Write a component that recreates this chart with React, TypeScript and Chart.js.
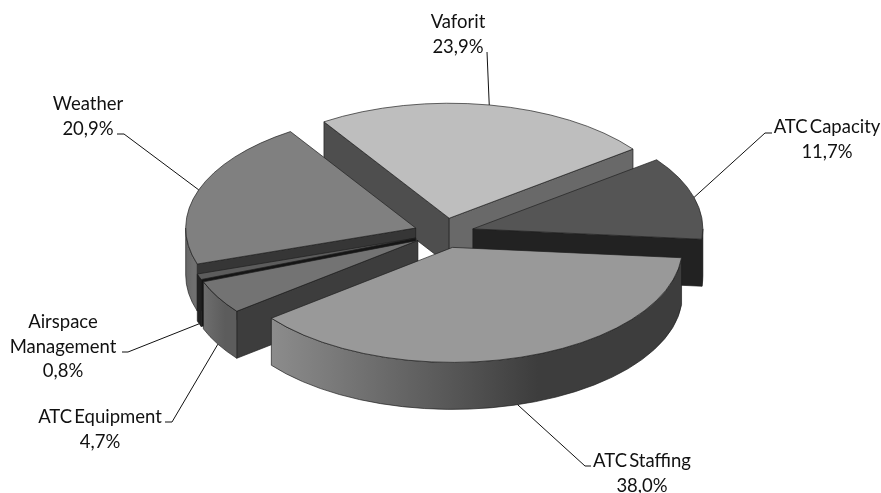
import React, { useEffect, useRef } from "react";
import { Chart, registerables } from "chart.js";

Chart.register(...registerables);

// ---- data ----
const categories = ["Vaforit", "ATC Capacity", "ATC Staffing", "ATC Equipment", "Airspace Management", "Weather"];
const labelLines = [["Vaforit"], ["ATC Capacity"], ["ATC Staffing"], ["ATC Equipment"], ["Airspace", "Management"], ["Weather"]];
const shares = [23.9, 11.7, 38.0, 4.7, 0.8, 20.9];

// ---- styles ----
const topColors = ["#bebebe", "#555555", "#999999", "#737373", "#5c5c5c", "#808080"];
const startWallColors = ["#4e4e4e", "#222222", "#444444", "#3d3d3d", "#151515", "#363636"];
const endWallColors = ["#696969", "#222222", "#444444", "#3d3d3d", "#151515", "#363636"];
const rimLight = ["#777777", "#222222", "#8c8c8c", "#6e6e6e", "#222222", "#666666"];
const rimDark = ["#777777", "#222222", "#3d3d3d", "#5c5c5c", "#222222", "#707070"];
const drawOrder = [0, 1, 5, 4, 3, 2];

// ---- pie geometry ----
const ROTATION = -33;
const RADIUS = 230;
const TILT = 0.5;
const DEPTH = 47;
const EXPLODE = 30;

// ---- label layout: centre x, first baseline, elbow, tail ----
const labelBoxes = [
  { cx: 458, y: 28, elbow: [487, 52], tail: null },
  { cx: 827, y: 133, elbow: [765, 133], tail: [772, 133] },
  { cx: 642, y: 467, elbow: [585, 466], tail: [591, 466] },
  { cx: 100, y: 423, elbow: [172, 422], tail: [165, 422] },
  { cx: 63, y: 328, elbow: [128, 352], tail: [122, 352] },
  { cx: 88, y: 110, elbow: [124, 134], tail: [117, 134] },
];
const LINE_HEIGHT = 24.5;
const FONT = '18.5px Lato, "Open Sans", sans-serif';
const OUTLINE = "rgba(30,30,30,0.85)";

const pie3d = {
  id: "pie3d",
  beforeDatasetsDraw(chart: any) {
    const ctx: CanvasRenderingContext2D = chart.ctx;
    const arcs = chart.getDatasetMeta(0).data;

    const geo = (arc: any) => {
      const a0 = arc.startAngle;
      const a1 = arc.endAngle;
      const mid = (a0 + a1) / 2;
      const ox = arc.x + EXPLODE * Math.cos(mid);
      const oy = arc.y + EXPLODE * Math.sin(mid) * TILT;
      return { a0, a1, mid, ox, oy, r: arc.outerRadius };
    };

    const wall = (ox: number, oy: number, r: number, a: number, color: string) => {
      const ex = ox + r * Math.cos(a);
      const ey = oy + r * Math.sin(a) * TILT;
      ctx.beginPath();
      ctx.moveTo(ox, oy);
      ctx.lineTo(ex, ey);
      ctx.lineTo(ex, ey + DEPTH);
      ctx.lineTo(ox, oy + DEPTH);
      ctx.closePath();
      ctx.fillStyle = color;
      ctx.fill();
      ctx.strokeStyle = OUTLINE;
      ctx.lineWidth = 0.8;
      ctx.stroke();
    };

    for (const i of drawOrder) {
      const arc = arcs[i];
      const { a0, a1, ox, oy, r } = geo(arc);

      if (Math.cos(a0) < 0) wall(ox, oy, r, a0, startWallColors[i]);
      if (Math.cos(a1) > 0) wall(ox, oy, r, a1, endWallColors[i]);

      const rs = Math.max(a0, 0);
      const re = Math.min(a1, Math.PI);
      if (re > rs) {
        const xa = ox + r * Math.cos(re);
        const xb = ox + r * Math.cos(rs);
        const g = ctx.createLinearGradient(xa, 0, xb, 0);
        g.addColorStop(0, rimLight[i]);
        g.addColorStop(0.65, rimDark[i]);
        g.addColorStop(1, rimDark[i]);
        ctx.beginPath();
        ctx.ellipse(ox, oy, r, r * TILT, 0, rs, re, false);
        ctx.ellipse(ox, oy + DEPTH, r, r * TILT, 0, re, rs, true);
        ctx.closePath();
        ctx.fillStyle = g;
        ctx.fill();
        ctx.strokeStyle = OUTLINE;
        ctx.lineWidth = 0.8;
        ctx.stroke();
      }

      // top face: the library's own arc, squashed and moved out
      ctx.save();
      ctx.translate(ox, oy);
      ctx.scale(1, TILT);
      ctx.translate(-arc.x, -arc.y);
      arc.draw(ctx);
      ctx.restore();

      ctx.beginPath();
      ctx.moveTo(ox, oy);
      ctx.ellipse(ox, oy, r, r * TILT, 0, a0, a1, false);
      ctx.closePath();
      ctx.strokeStyle = OUTLINE;
      ctx.lineWidth = 0.8;
      ctx.stroke();
    }

    // leader lines and labels
    ctx.font = FONT;
    ctx.textAlign = "center";
    ctx.textBaseline = "alphabetic";
    (ctx as any).wordSpacing = "-2.5px";
    arcs.forEach((arc: any, i: number) => {
      const { mid, ox, oy, r } = geo(arc);
      const box = labelBoxes[i];
      const ax = ox + r * Math.cos(mid);
      const ay = oy + r * Math.sin(mid) * TILT + (Math.sin(mid) > 0 ? DEPTH : 0);
      ctx.beginPath();
      ctx.moveTo(ax, ay);
      ctx.lineTo(box.elbow[0], box.elbow[1]);
      if (box.tail) ctx.lineTo(box.tail[0], box.tail[1]);
      ctx.strokeStyle = "#111111";
      ctx.lineWidth = 1;
      ctx.stroke();

      ctx.fillStyle = "#111111";
      const lines = [...labelLines[i], shares[i].toFixed(1).replace(".", ",") + "%"];
      lines.forEach((t, k) => ctx.fillText(t, box.cx, box.y + k * LINE_HEIGHT));
    });
    return false;
  },
};

export default function App() {
  const ref = useRef<HTMLCanvasElement>(null);
  useEffect(() => {
    const chart = new Chart(ref.current as HTMLCanvasElement, {
      type: "pie",
      data: {
        labels: categories,
        datasets: [{ data: shares, backgroundColor: topColors, borderWidth: 0 }],
      },
      options: {
        responsive: false,
        animation: false,
        rotation: ROTATION,
        radius: RADIUS,
        layout: { padding: { left: 7, right: 0, top: 0, bottom: 27 } },
        plugins: { legend: { display: false }, tooltip: { enabled: false }, title: { display: false } },
      },
      plugins: [pie3d],
    } as any);
    return () => chart.destroy();
  }, []);
  return (
    <div style={{ position: "absolute", left: 0, top: 0, background: "#ffffff" }}>
      <canvas ref={ref} width={881} height={493} style={{ display: "block" }} />
    </div>
  );
}
